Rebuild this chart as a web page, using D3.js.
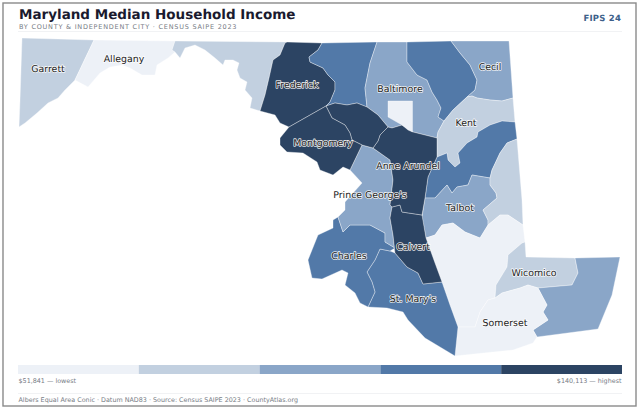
<!DOCTYPE html>
<html><head><meta charset="utf-8">
<script src="https://cdn.jsdelivr.net/npm/d3@7/dist/d3.min.js"></script>
<style>
html,body{margin:0;padding:0;background:#fff}
svg{display:block;opacity:0.999;will-change:opacity}
text{font-family:"DejaVu Sans",sans-serif;text-rendering:geometricPrecision}
</style></head><body>
<svg id="c" width="640" height="410"></svg>
<script>
const titleText="Maryland Median Household Income";
const subtitleText="BY COUNTY & INDEPENDENT CITY · CENSUS SAIPE 2023";
const fipsText="FIPS 24";
const footerText="Albers Equal Area Conic · Datum NAD83 · Source: Census SAIPE 2023 · CountyAtlas.org";
const lowLabel="$51,841 — lowest";
const highLabel="$140,113 — highest";
const palette=["#edf1f7","#c2d0e0","#8aa6c8","#5279a8","#2c4463"];
const thresholds=[66000,78000,100000,115000];
const names=["Garrett","Allegany","Washington","Frederick","Carroll","Baltimore","Harford","Cecil","Kent","Queen Anne's","Talbot","Caroline","Dorchester","Wicomico","Worcester","Somerset","St. Mary's","Charles","Prince George's","Calvert","Anne Arundel","Howard","Montgomery","Baltimore City"];
const incomes=[67000,55000,72000,118000,113000,90000,108000,89000,71000,110000,84000,70000,60000,69000,80000,51841,111000,112000,97000,129000,122000,140113,125000,58000];
const rings={
"Garrett":[[22,38],[94,40],[75,80],[70,85],[65,90],[58,98],[48,103],[37,113],[25,123],[19,127],[20,100]],
"Allegany":[[94,40],[175,41],[172,50],[175,52],[168,58],[157,65],[155,75],[142,75],[130,68],[122,65],[110,67],[100,73],[88,87],[75,80]],
"Washington":[[175,41],[287,42],[285,43],[280,55],[273,60],[269,78],[265,95],[260,111],[250,108],[252,98],[245,90],[247,82],[240,78],[237,70],[239,63],[233,60],[225,60],[223,65],[215,58],[205,50],[195,45],[185,48],[180,58],[175,52],[172,50]],
"Frederick":[[287,42],[322,43],[318,50],[309,57],[310,62],[323,68],[328,75],[335,82],[335,90],[330,102],[326,106],[289,127],[280,123],[275,115],[260,111],[265,95],[269,78],[273,60],[280,55],[285,43]],
"Carroll":[[322,43],[377,42],[370,63],[365,88],[367,107],[357,103],[347,105],[335,103],[326,106],[330,102],[335,90],[335,82],[328,75],[323,68],[310,62],[309,57],[318,50]],
"Baltimore":[[377,42],[407,42],[407,62],[417,75],[427,80],[432,92],[437,100],[441,108],[438,117],[444,121],[438,132],[437,138],[413,132],[402,125],[392,128],[388,127],[378,115],[367,107],[365,88],[370,63]],
"Harford":[[407,42],[451,41],[460,53],[470,65],[477,80],[475,90],[467,97],[453,110],[444,121],[438,117],[441,108],[437,100],[432,92],[427,80],[417,75],[407,62]],
"Cecil":[[451,41],[509,41],[513,98],[502,101],[490,100],[477,98],[472,96],[467,97],[475,90],[477,80],[470,65],[460,53]],
"Kent":[[467,97],[472,96],[477,98],[490,100],[502,101],[513,98],[515,122],[502,121],[490,125],[478,132],[477,137],[467,143],[458,153],[460,163],[455,167],[448,160],[447,153],[437,157],[437,138],[438,132],[444,121],[453,110]],
"Queen Anne's":[[437,157],[447,153],[448,160],[455,167],[460,163],[458,153],[467,143],[477,137],[478,132],[490,125],[502,121],[515,122],[517,139],[507,143],[500,153],[492,170],[490,178],[472,175],[468,185],[457,187],[452,193],[447,185],[435,198],[425,198],[428,177]],
"Talbot":[[425,198],[435,198],[447,185],[452,193],[457,187],[468,185],[472,175],[490,178],[490,185],[496,193],[497,198],[483,210],[488,220],[488,225],[480,238],[465,232],[453,223],[442,225],[435,235],[426,238],[422,217]],
"Caroline":[[517,139],[522,200],[523,225],[508,215],[500,215],[488,225],[488,220],[483,210],[497,198],[496,193],[490,185],[490,178],[492,170],[500,153],[507,143]],
"Dorchester":[[426,238],[435,235],[442,225],[453,223],[465,232],[480,238],[488,225],[500,215],[508,215],[523,225],[525,242],[522,243],[508,255],[507,267],[496,285],[495,298],[488,300],[480,312],[475,327],[458,327],[450,305],[442,282],[435,263]],
"Wicomico":[[525,242],[526,257],[575,258],[578,273],[572,285],[538,288],[528,285],[520,288],[502,293],[495,298],[496,285],[507,267],[508,255],[522,243]],
"Worcester":[[575,258],[620,257],[612,295],[598,329],[537,337],[533,330],[548,320],[543,312],[547,305],[538,288],[572,285],[578,273]],
"Somerset":[[495,298],[502,293],[520,288],[528,285],[538,288],[547,305],[543,312],[548,320],[533,330],[537,337],[533,343],[513,350],[493,352],[455,356],[458,327],[475,327],[480,312],[488,300]],
"St. Mary's":[[380,249],[375,260],[367,272],[372,282],[375,292],[368,307],[387,308],[403,312],[408,320],[425,338],[455,356],[458,327],[450,305],[442,282],[423,284],[418,273],[407,267],[395,253],[390,251]],
"Charles":[[338,217],[343,232],[350,225],[370,225],[385,233],[385,242],[395,248],[390,251],[380,249],[375,260],[367,272],[372,282],[375,292],[368,307],[360,303],[355,293],[345,285],[348,273],[342,270],[322,279],[312,278],[308,260],[318,235],[333,228],[333,220]],
"Prince George's":[[362,145],[373,148],[390,160],[393,180],[391,197],[390,205],[392,207],[390,218],[393,235],[395,253],[395,248],[385,242],[385,233],[370,225],[350,225],[343,232],[338,217],[345,210],[345,202],[362,183],[350,170]],
"Calvert":[[392,207],[400,205],[402,212],[422,215],[426,238],[435,263],[442,282],[423,284],[418,273],[407,267],[395,253],[393,235],[390,218]],
"Anne Arundel":[[388,127],[392,128],[402,125],[413,132],[437,138],[437,157],[428,177],[425,198],[422,215],[402,212],[400,205],[392,207],[390,205],[391,197],[393,180],[390,160],[373,148],[378,141],[380,135]],
"Howard":[[326,106],[335,103],[347,105],[357,103],[367,107],[378,115],[388,127],[380,135],[378,141],[373,148],[362,145],[352,140],[350,133],[345,125],[332,118]],
"Montgomery":[[326,106],[332,118],[345,125],[350,133],[352,140],[362,145],[350,170],[343,167],[333,175],[320,170],[317,162],[303,153],[287,152],[280,145],[280,138],[289,127]],
"Baltimore City":[[388,101],[412.5,101],[412.5,132],[408,130],[402,125],[388,117]]
};
const labelNames=["Garrett","Allegany","Frederick","Montgomery","Baltimore","Cecil","Kent","Anne Arundel","Prince George's","Talbot","Charles","Calvert","St. Mary's","Wicomico","Somerset"];
const labelPoints=[[48,69],[124,59],[297,85],[323,143],[400,89],[490,67],[466,123],[408,166],[370,195],[460,208],[349,256],[413,247],[413,299],[534,273],[505,323]];

const svg=d3.select("#c");
svg.append("rect").attr("x",3).attr("y",3).attr("width",633).attr("height",403).attr("fill","#fff").attr("stroke","#8a8a8a").attr("stroke-width",1.4);
svg.append("text").attr("x",19).attr("y",18.5).attr("font-size",13.5).attr("font-weight",700).attr("fill","#1a1a2e").attr("letter-spacing",0).text(titleText);
svg.append("text").attr("x",19).attr("y",29).attr("font-size",6.5).attr("fill","#777c85").attr("letter-spacing",0.76).text(subtitleText);
svg.append("text").attr("x",621).attr("y",21).attr("text-anchor","end").attr("font-size",8.5).attr("font-weight",700).attr("fill","#3d5f8a").attr("letter-spacing",0.2).text(fipsText);
svg.append("line").attr("x1",18).attr("x2",622).attr("y1",31.5).attr("y2",31.5).attr("stroke","#f1f2f4");

const color=d3.scaleThreshold().domain(thresholds).range(palette);
const features=names.map((n,i)=>({type:"Feature",properties:{name:n,income:incomes[i]},geometry:{type:"Polygon",coordinates:[rings[n].concat([rings[n][0]])]}}));
const path=d3.geoPath(d3.geoIdentity());
svg.append("g").selectAll("path").data(features).join("path")
  .attr("d",path).attr("fill",d=>color(d.properties.income))
  .attr("stroke","#fff").attr("stroke-opacity",0.7).attr("stroke-width",0.5).attr("stroke-linejoin","round");

svg.append("g").selectAll("text").data(labelNames).join("text")
  .attr("x",(d,i)=>labelPoints[i][0]).attr("y",(d,i)=>labelPoints[i][1])
  .attr("text-anchor","middle").attr("dominant-baseline","middle")
  .attr("font-size",9.4).attr("fill","#222")
  .attr("stroke","#fff").attr("stroke-width",1.6).attr("stroke-opacity",0.85).attr("paint-order","stroke").attr("stroke-linejoin","round")
  .text(d=>d);

const legendX=d3.scaleBand().domain(d3.range(palette.length)).range([18,622]);
svg.append("g").selectAll("rect").data(palette).join("rect")
  .attr("x",(d,i)=>legendX(i)).attr("y",365).attr("width",legendX.bandwidth()).attr("height",9).attr("fill",d=>d);
svg.append("text").attr("x",18.5).attr("y",382.5).attr("font-size",6.4).attr("fill","#777c85").text(lowLabel);
svg.append("text").attr("x",621.5).attr("y",382.5).attr("text-anchor","end").attr("font-size",6.4).attr("fill","#777c85").text(highLabel);
svg.append("line").attr("x1",18).attr("x2",622).attr("y1",393.5).attr("y2",393.5).attr("stroke","#f1f2f4");
svg.append("text").attr("x",18.5).attr("y",402).attr("font-size",6.4).attr("fill","#777c85").text(footerText);
</script></body></html>
